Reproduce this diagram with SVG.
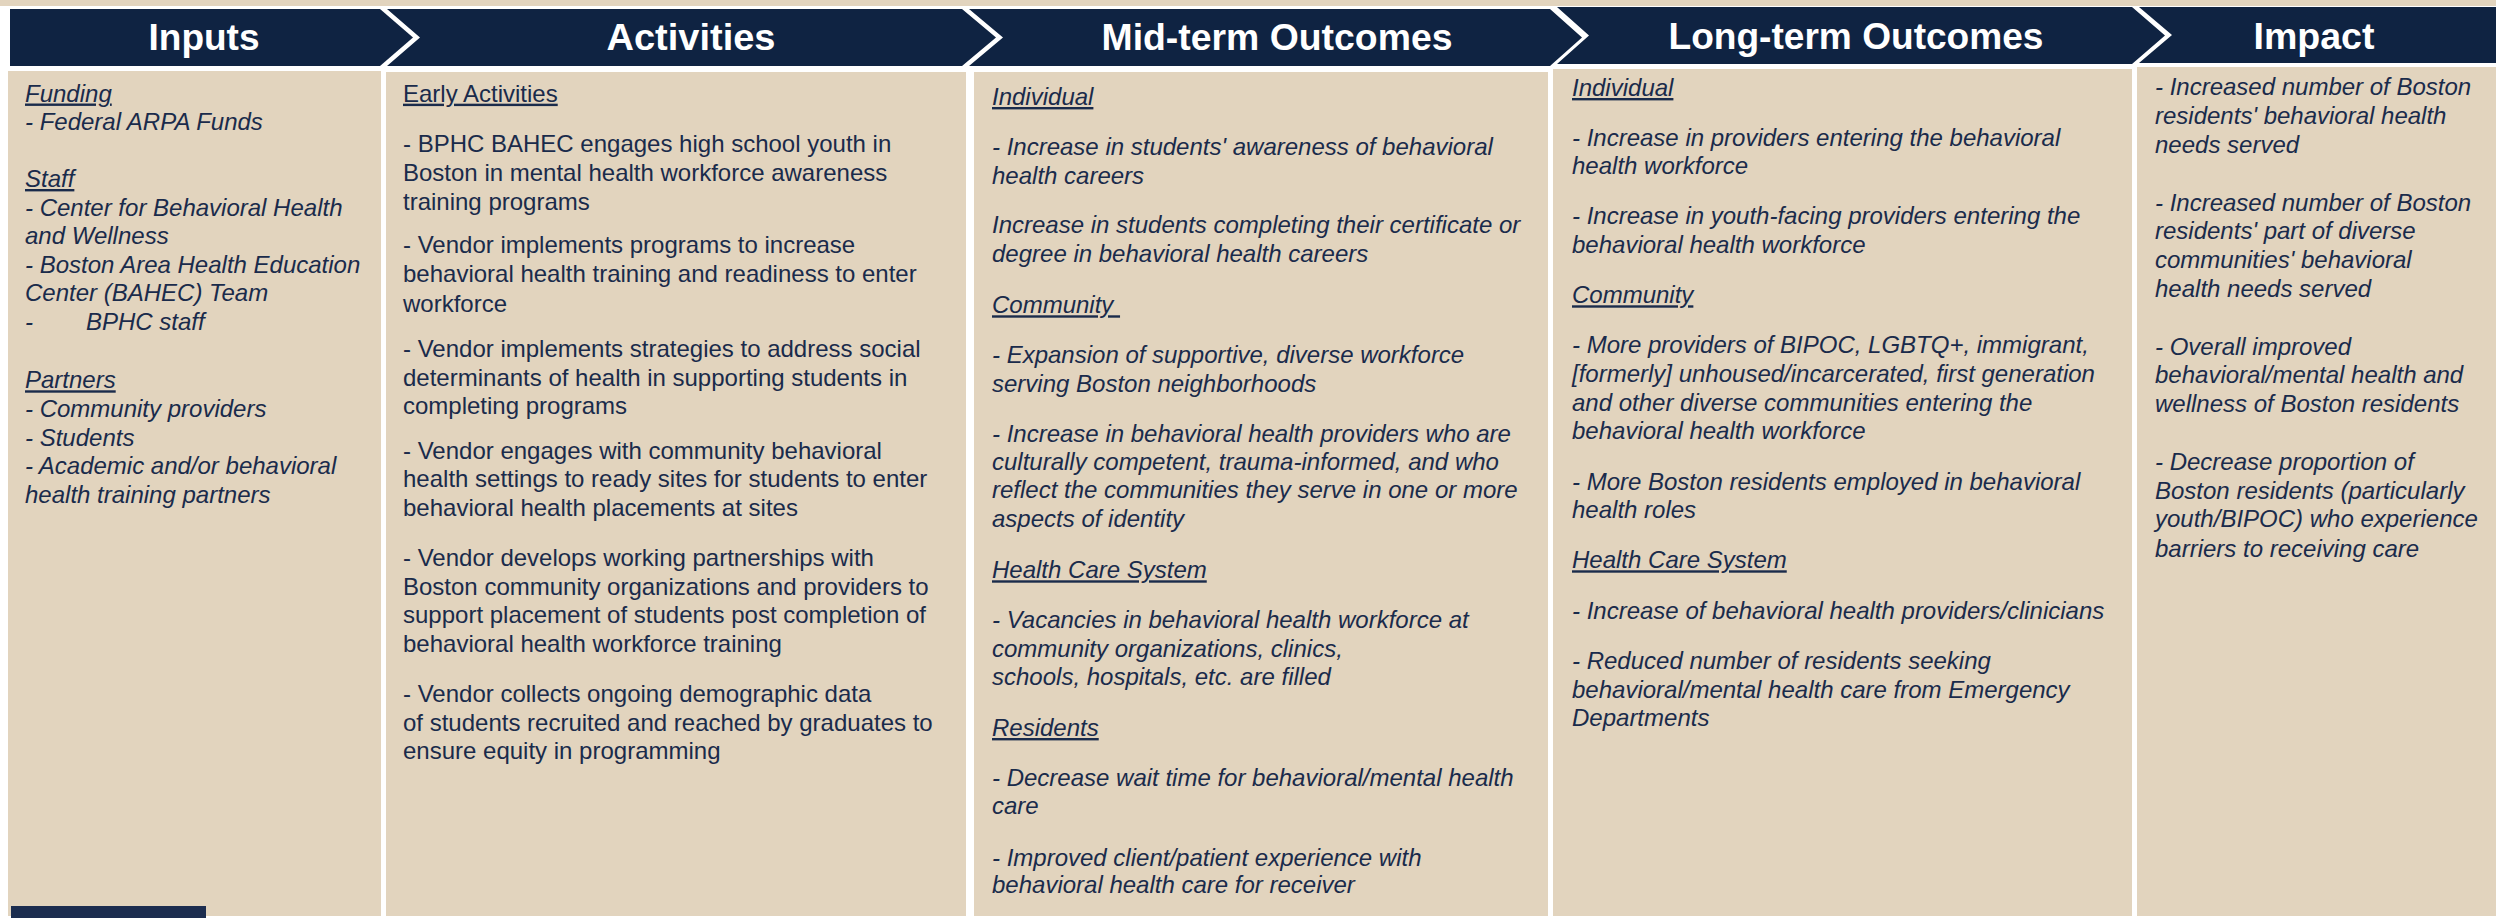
<svg xmlns="http://www.w3.org/2000/svg" width="2496" height="918" viewBox="0 0 2496 918">
<style>
.bg{fill:#ffffff}
.box{fill:#E2D4BE}
.hdr{fill:#0F2342}
.ht{font-family:"Liberation Sans",Arial,sans-serif;font-weight:bold;font-size:36px;fill:#ffffff;text-anchor:middle}
.t{font-family:"Liberation Sans",Arial,sans-serif;font-size:24px;fill:#1A2B4B}
.i{font-style:italic}
.u{text-decoration:underline}
</style>
<rect class="bg" x="0" y="0" width="2496" height="918"/>
<rect class="box" x="0" y="0" width="2496" height="6"/>
<g id="connectors"></g>

<g id="inputs">
<path class="hdr" d="M10,9 L380,9 L413,37.5 L380,66 L10,66 Z"/>
<text class="ht" x="204" y="50" textLength="111" lengthAdjust="spacingAndGlyphs">Inputs</text>
<rect class="box" x="8" y="71" width="373" height="845"/>
<text class="t i">
<tspan class="u" x="25" y="101.5">Funding</tspan>
<tspan x="25" y="129.5">- Federal ARPA Funds</tspan>
<tspan class="u" x="25" y="187">Staff</tspan>
<tspan x="25" y="215.5">- Center for Behavioral Health</tspan>
<tspan x="25" y="244">and Wellness</tspan>
<tspan x="25" y="272.7">- Boston Area Health Education</tspan>
<tspan x="25" y="301.3">Center (BAHEC) Team</tspan>
<tspan x="25" y="330">-</tspan>
<tspan x="86" y="330">BPHC staff</tspan>
<tspan class="u" x="25" y="388.3">Partners</tspan>
<tspan x="25" y="416.7">- Community providers</tspan>
<tspan x="25" y="445.5">- Students</tspan>
<tspan x="25" y="474.3">- Academic and/or behavioral</tspan>
<tspan x="25" y="503">health training partners</tspan>
</text>
<rect x="11" y="906" width="195" height="12" fill="#1C2D4F"/>
</g>

<g id="activities">
<path class="hdr" d="M387,9 L962,9 L996,37.5 L962,66 L387,66 L420,37.5 Z"/>
<text class="ht" x="691" y="50" textLength="169" lengthAdjust="spacingAndGlyphs">Activities</text>
<rect class="box" x="386" y="72" width="580" height="844"/>
<text class="t">
<tspan class="u" x="403" y="101.7">Early Activities</tspan>
<tspan x="403" y="151.7">- BPHC BAHEC engages high school youth in</tspan>
<tspan x="403" y="180.7">Boston in mental health workforce awareness</tspan>
<tspan x="403" y="210">training programs</tspan>
<tspan x="403" y="253">- Vendor implements programs to increase</tspan>
<tspan x="403" y="282">behavioral health training and readiness to enter</tspan>
<tspan x="403" y="311.5">workforce</tspan>
<tspan x="403" y="356.5">- Vendor implements strategies to address social</tspan>
<tspan x="403" y="385.5">determinants of health in supporting students in</tspan>
<tspan x="403" y="414">completing programs</tspan>
<tspan x="403" y="459">- Vendor engages with community behavioral</tspan>
<tspan x="403" y="487">health settings to ready sites for students to enter</tspan>
<tspan x="403" y="516">behavioral health placements at sites</tspan>
<tspan x="403" y="566">- Vendor develops working partnerships with</tspan>
<tspan x="403" y="595">Boston community organizations and providers to</tspan>
<tspan x="403" y="623.3">support placement of students post completion of</tspan>
<tspan x="403" y="651.7">behavioral health workforce training</tspan>
<tspan x="403" y="701.7">- Vendor collects ongoing demographic data</tspan>
<tspan x="403" y="730.5">of students recruited and reached by graduates to</tspan>
<tspan x="403" y="759.3">ensure equity in programming</tspan>
</text>
</g>

<g id="midterm">
<path class="hdr" d="M969,9 L1550,9 L1582,37.5 L1550,66 L969,66 L1003,37.5 Z"/>
<text class="ht" x="1277" y="50" textLength="351" lengthAdjust="spacingAndGlyphs">Mid-term Outcomes</text>
<rect class="box" x="974" y="72" width="574" height="844"/>
<text class="t i">
<tspan class="u" x="992" y="105">Individual</tspan>
<tspan x="992" y="155">- Increase in students' awareness of behavioral</tspan>
<tspan x="992" y="184">health careers</tspan>
<tspan x="992" y="233.3">Increase in students completing their certificate or</tspan>
<tspan x="992" y="261.7">degree in behavioral health careers</tspan>
<tspan class="u" x="992" y="313.3" style="white-space:pre">Community </tspan>
<tspan x="992" y="363.3">- Expansion of supportive, diverse workforce</tspan>
<tspan x="992" y="391.7">serving Boston neighborhoods</tspan>
<tspan x="992" y="441.7">- Increase in behavioral health providers who are</tspan>
<tspan x="992" y="470">culturally competent, trauma-informed, and who</tspan>
<tspan x="992" y="498.3">reflect the communities they serve in one or more</tspan>
<tspan x="992" y="526.7">aspects of identity</tspan>
<tspan class="u" x="992" y="578.3">Health Care System</tspan>
<tspan x="992" y="628.3">- Vacancies in behavioral health workforce at</tspan>
<tspan x="992" y="656.7">community organizations, clinics,</tspan>
<tspan x="992" y="685">schools, hospitals, etc. are filled</tspan>
<tspan class="u" x="992" y="736">Residents</tspan>
<tspan x="992" y="786">- Decrease wait time for behavioral/mental health</tspan>
<tspan x="992" y="814.3">care</tspan>
<tspan x="992" y="866">- Improved client/patient experience with</tspan>
<tspan x="992" y="893.3">behavioral health care for receiver</tspan>
</text>
</g>

<g id="longterm">
<path class="hdr" d="M1557,7 L2132,7 L2165,35.5 L2132,64 L1557,64 L1589,35.5 Z"/>
<text class="ht" x="1856" y="49" textLength="375" lengthAdjust="spacingAndGlyphs">Long-term Outcomes</text>
<rect class="box" x="1553" y="69" width="579" height="847"/>
<text class="t i">
<tspan class="u" x="1572" y="96">Individual</tspan>
<tspan x="1572" y="146">- Increase in providers entering the behavioral</tspan>
<tspan x="1572" y="174.3">health workforce</tspan>
<tspan x="1572" y="224.3">- Increase in youth-facing providers entering the</tspan>
<tspan x="1572" y="252.7">behavioral health workforce</tspan>
<tspan class="u" x="1572" y="303.3">Community</tspan>
<tspan x="1572" y="353.3">- More providers of BIPOC, LGBTQ+, immigrant,</tspan>
<tspan x="1572" y="382.3">[formerly] unhoused/incarcerated, first generation</tspan>
<tspan x="1572" y="411">and other diverse communities entering the</tspan>
<tspan x="1572" y="439.3">behavioral health workforce</tspan>
<tspan x="1572" y="490">- More Boston residents employed in behavioral</tspan>
<tspan x="1572" y="518.3">health roles</tspan>
<tspan class="u" x="1572" y="568.3">Health Care System</tspan>
<tspan x="1572" y="619.3">- Increase of behavioral health providers/clinicians</tspan>
<tspan x="1572" y="669.3">- Reduced number of residents seeking</tspan>
<tspan x="1572" y="697.7">behavioral/mental health care from Emergency</tspan>
<tspan x="1572" y="726">Departments</tspan>
</text>
</g>

<g id="impact">
<path class="hdr" d="M2139,7 L2496,7 L2496,63 L2139,63 L2172,35 Z"/>
<text class="ht" x="2314" y="49" textLength="121" lengthAdjust="spacingAndGlyphs">Impact</text>
<rect class="box" x="2137" y="67" width="359" height="849"/>
<text class="t i">
<tspan x="2155" y="95">- Increased number of Boston</tspan>
<tspan x="2155" y="124">residents' behavioral health</tspan>
<tspan x="2155" y="152.7">needs served</tspan>
<tspan x="2155" y="210.7">- Increased number of Boston</tspan>
<tspan x="2155" y="239.3">residents' part of diverse</tspan>
<tspan x="2155" y="268.3">communities' behavioral</tspan>
<tspan x="2155" y="297.3">health needs served</tspan>
<tspan x="2155" y="355">- Overall improved</tspan>
<tspan x="2155" y="383.3">behavioral/mental health and</tspan>
<tspan x="2155" y="412.3">wellness of Boston residents</tspan>
<tspan x="2155" y="470">- Decrease proportion of</tspan>
<tspan x="2155" y="499">Boston residents (particularly</tspan>
<tspan x="2155" y="527.3">youth/BIPOC) who experience</tspan>
<tspan x="2155" y="556.7">barriers to receiving care</tspan>
</text>
</g>
</svg>
